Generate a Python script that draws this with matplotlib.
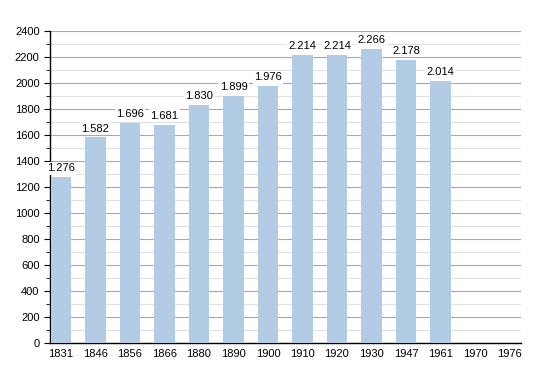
import matplotlib.pyplot as plt
import numpy as np
from matplotlib.ticker import MultipleLocator

plt.rcParams['font.family'] = ['Liberation Sans', 'DejaVu Sans']

years = ['1831', '1846', '1856', '1866', '1880', '1890', '1900', '1910',
         '1920', '1930', '1947', '1961', '1970', '1976']
population = [1276, 1582, 1696, 1681, 1830, 1899, 1976, 2214,
              2214, 2266, 2178, 2014, np.nan, np.nan]

fig = plt.figure(figsize=(5.5, 3.73), dpi=100)
ax = fig.add_axes([0.0909, 0.0804, 0.856, 0.836])

x = np.arange(len(years))
ax.bar(x, population, width=0.6, color='#b3cce6', zorder=3)

for xi, v in zip(x, population):
    if np.isnan(v):
        continue
    ax.text(xi, v + 30, f"{v/1000:.3f}", ha='center', va='bottom', fontsize=8,
            bbox=dict(facecolor='white', edgecolor='none', pad=1), zorder=4)

ax.set_xlim(-0.32, 13.33)
ax.set_ylim(0, 2400)
ax.set_xticks(x)
ax.set_xticklabels(years, fontsize=8)
ax.tick_params(axis='x', length=0, pad=4)
ax.yaxis.set_major_locator(MultipleLocator(200))
ax.yaxis.set_minor_locator(MultipleLocator(100))
ax.tick_params(axis='y', which='major', labelsize=8, length=4, direction='out')
ax.tick_params(axis='y', which='minor', length=3, direction='out')

ax.grid(axis='y', which='major', color='#a8a8a8', linewidth=0.8, zorder=0)
ax.grid(axis='y', which='minor', color='#e0e0e0', linewidth=0.8, zorder=0)
ax.set_axisbelow(True)

for s in ['top', 'right']:
    ax.spines[s].set_visible(False)
ax.spines['left'].set_linewidth(1.0)
ax.spines['bottom'].set_linewidth(1.0)

fig.savefig('out.png', dpi=100)
